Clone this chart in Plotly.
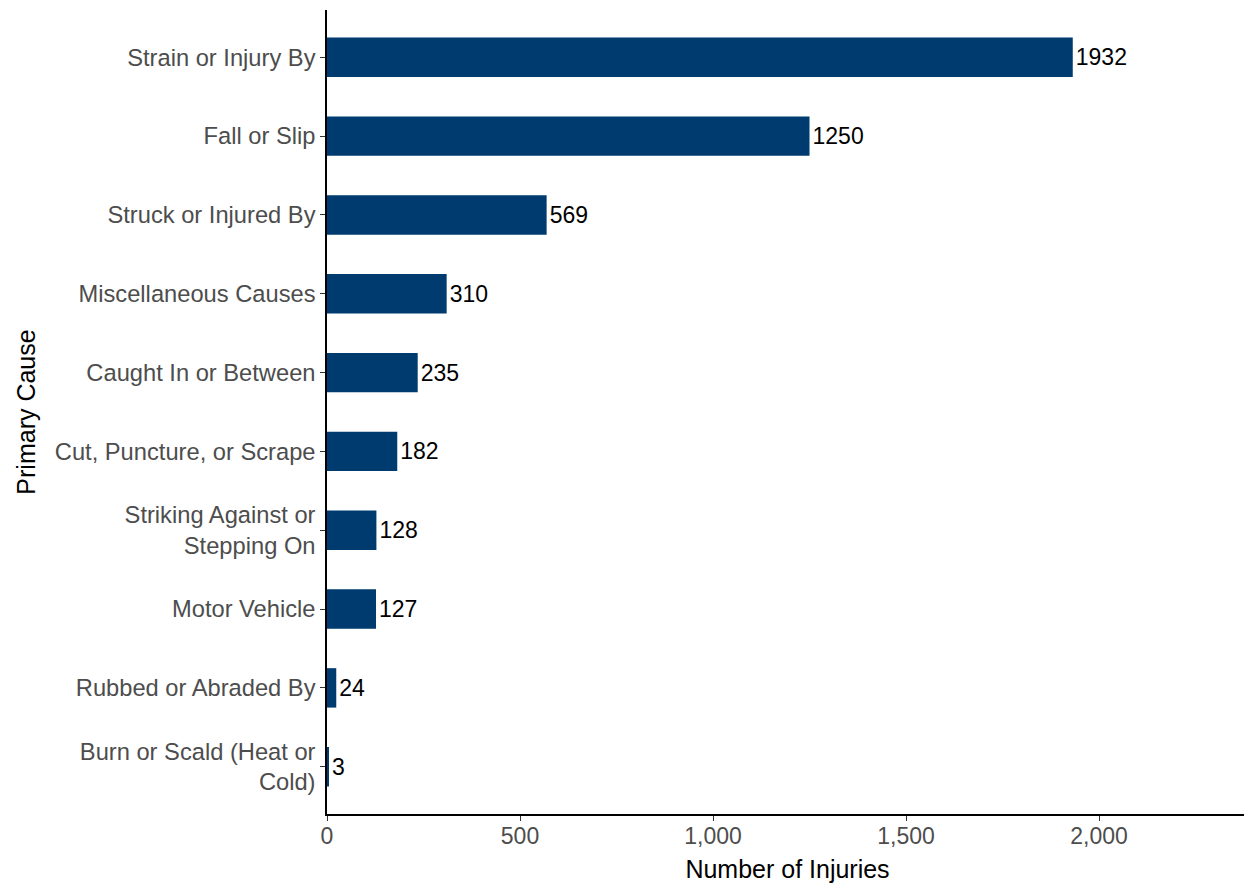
import plotly.graph_objects as go

causes = [
    "Strain or Injury By",
    "Fall or Slip",
    "Struck or Injured By",
    "Miscellaneous Causes",
    "Caught In or Between",
    "Cut, Puncture, or Scrape",
    "Striking Against or<br>Stepping On",
    "Motor Vehicle",
    "Rubbed or Abraded By",
    "Burn or Scald (Heat or<br>Cold)",
]
injuries = [1932, 1250, 569, 310, 235, 182, 128, 127, 24, 3]
x_tick_vals = [0, 500, 1000, 1500, 2000]

FONT = "Liberation Sans, Arial, sans-serif"

fig = go.Figure(
    go.Bar(
        x=injuries,
        y=causes,
        orientation="h",
        width=0.5,
        marker=dict(color="#003B6F", line=dict(width=0)),
        text=[str(v) for v in injuries],
        textposition="outside",
        textfont=dict(family=FONT, size=23, color="black"),
        constraintext="none",
        cliponaxis=False,
    )
)

fig.update_layout(
    width=1244,
    height=880,
    margin=dict(l=319, r=4, t=2, b=74),
    paper_bgcolor="white",
    plot_bgcolor="white",
    showlegend=False,
    font=dict(family=FONT),
)

fig.update_xaxes(
    range=[0, 2386],
    tickvals=x_tick_vals,
    tickformat=",",
    showgrid=False,
    zeroline=False,
    showline=True,
    linecolor="black",
    linewidth=1.5,
    ticks="outside",
    ticklen=5,
    tickwidth=1.2,
    tickcolor="#333333",
    ticklabelstandoff=-4,
    tickfont=dict(family=FONT, size=23, color="#4D4D4D"),
    title=dict(text="Number of Injuries", font=dict(family=FONT, size=25, color="black"), standoff=12),
)

fig.update_yaxes(
    type="category",
    categoryorder="array",
    categoryarray=list(reversed(causes)),
    range=[-0.6, 9.6],
    showgrid=False,
    zeroline=False,
    showline=True,
    linecolor="black",
    linewidth=1.5,
    ticks="outside",
    ticklen=5,
    tickwidth=1.2,
    tickcolor="#333333",
    tickfont=dict(family=FONT, size=23.7, color="#4D4D4D"),
    title=dict(text="Primary Cause", font=dict(family=FONT, size=25, color="black"), standoff=12),
)

fig.write_html("out.html")
